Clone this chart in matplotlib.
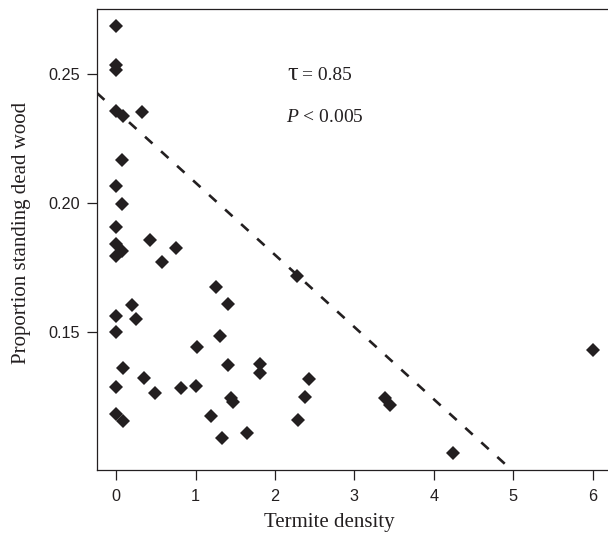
import numpy as np
import matplotlib
matplotlib.use("Agg")
import matplotlib.pyplot as plt

# termite density vs proportion of standing dead wood
termite_density = [0.00, 0.00, 0.00, 0.00, 0.088, 0.322, 0.079, 0.00, 0.079, 0.00,
                   0.00, 0.423, 0.758, 0.079, 0.00, 0.574, 1.262, 2.277, 0.196, 0.00,
                   0.255, 1.409, 0.00, 1.312, 1.023, 0.088, 0.352, 0.00, 0.491, 0.813,
                   1.010, 1.409, 1.815, 1.815, 2.431, 1.447, 1.472, 2.372, 1.199, 2.284,
                   1.333, 1.643, 0.00, 0.088, 3.387, 3.442, 4.246, 6.00]
dead_wood = [0.2687, 0.2535, 0.2518, 0.2356, 0.2337, 0.2354, 0.2166, 0.2065, 0.1998, 0.1907,
             0.1843, 0.1856, 0.1825, 0.1813, 0.1794, 0.1772, 0.1675, 0.1717, 0.1607, 0.1561,
             0.1552, 0.1610, 0.1499, 0.1487, 0.1441, 0.1360, 0.1321, 0.1287, 0.1263, 0.1283,
             0.1293, 0.1373, 0.1375, 0.1342, 0.1320, 0.1245, 0.1228, 0.1247, 0.1177, 0.1161,
             0.1091, 0.1108, 0.1181, 0.1157, 0.1245, 0.1219, 0.1032, 0.1433]

# upper boundary line
line_intercept = 0.236
line_slope = -0.028

x_ticks = [0, 1, 2, 3, 4, 5, 6]
y_ticks = [0.15, 0.20, 0.25]

ink = "#231f20"
plt.rcParams["mathtext.fontset"] = "custom"
plt.rcParams["mathtext.rm"] = "Liberation Serif"
plt.rcParams["mathtext.it"] = "Liberation Serif:italic"

fig = plt.figure(figsize=(6.08, 5.35), dpi=100)
ax = fig.add_axes([97 / 608, 65 / 535, 514.8 / 608, 461 / 535])

ax.plot(termite_density, dead_wood, linestyle="none", marker="D", markersize=7,
        color=ink, markeredgewidth=0)
ax.axline((0, line_intercept), slope=line_slope, color=ink, lw=1.9,
          dashes=(3.8, 4.4))

xr = max(termite_density) - min(termite_density)
yr = max(dead_wood) - min(dead_wood)
ax.set_xlim(min(termite_density) - 0.04 * xr, max(termite_density) + 0.04 * xr)
ax.set_ylim(min(dead_wood) - 0.04 * yr, max(dead_wood) + 0.04 * yr)

ax.set_xticks(x_ticks)
ax.set_yticks(y_ticks)
ax.set_xticklabels([str(t) for t in x_ticks])
ax.set_yticklabels(["%.2f" % t for t in y_ticks])
ax.tick_params(axis="both", direction="out", length=7.2, width=0.9, color=ink,
               labelcolor=ink, labelsize=11.7)
ax.tick_params(axis="x", pad=6.3)
ax.tick_params(axis="y", pad=5)
for lab in ax.get_xticklabels() + ax.get_yticklabels():
    lab.set_fontfamily("Liberation Sans")
for side in ["left", "bottom", "top"]:
    ax.spines[side].set_color(ink)
    ax.spines[side].set_linewidth(0.9)
ax.spines["right"].set_visible(False)

ax.set_xlabel("Termite density", fontfamily="Liberation Serif", fontsize=15, color=ink)
ax.set_ylabel("Proportion standing dead wood", fontfamily="Liberation Serif",
              fontsize=15, color=ink)
ax.xaxis.set_label_coords(0.451, -0.093)
ax.yaxis.set_label_coords(-0.128, 0.515)

ax.text(2.155, 0.2477, "\u03c4", fontfamily="Liberation Serif", fontsize=19,
        color=ink, va="baseline")
ax.text(2.345, 0.2477, "= 0.85", fontfamily="Liberation Serif", fontsize=14,
        color=ink, va="baseline")
ax.text(2.145, 0.2315, r"$P$ < 0.005", fontfamily="Liberation Serif", fontsize=14,
        color=ink, va="baseline")

fig.savefig("out.png", dpi=100)
